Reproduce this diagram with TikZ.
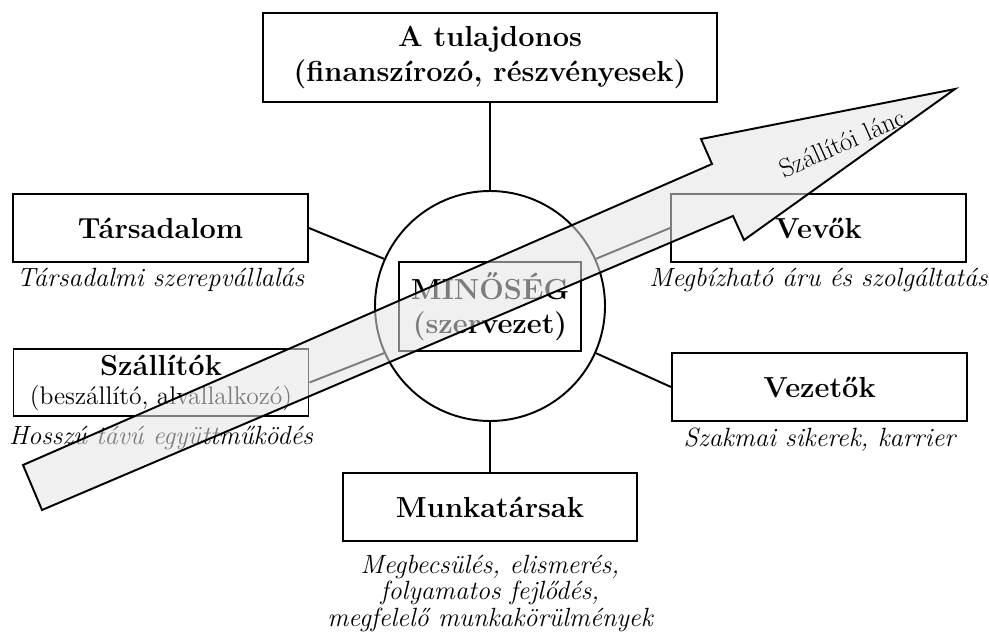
\documentclass[tikz,border=0pt]{standalone}
\usepackage{fontspec}
\usetikzlibrary{positioning}
\newcommand{\titlefont}{\fontsize{16.5}{19.5}\selectfont\bfseries}
\newcommand{\notefont}{\fontsize{15}{15.2}\selectfont\itshape}
\newcommand{\subfont}{\fontsize{14.5}{14.2}\selectfont\mdseries}
\tikzset{
  partner/.style={draw,rectangle,line width=1.1pt,minimum width=5.9cm,minimum height=1.36cm,align=center,font=\titlefont},
  note/.style={inner sep=0pt,align=center,font=\notefont},
  core/.style={draw,circle,line width=1.1pt,minimum size=4.6cm,inner sep=0pt},
  link/.style={line width=1.1pt},
  chain/.style={draw,line width=1.1pt,line join=miter,fill=black!11,fill opacity=0.55}
}

\begin{document}
\begin{tikzpicture}
  \useasboundingbox (0,0) rectangle (19.78,12.66);

  \node[partner,minimum width=9.08cm,minimum height=1.78cm] (tul) at (9.8,11.51) {A tulajdonos\\(finanszírozó, részvényesek)};
  \node[core] (circ) at (9.8,6.54) {};
  \node[partner,minimum width=3.64cm,minimum height=1.78cm] (min) at (9.8,6.53) {MINŐSÉG\\(szervezet)};
  \node[partner] (tars) at (3.21,8.10) {Társadalom};
  \node[partner,minimum height=1.18cm] (szall) at (3.22,5.01) {Szállítók\\[-3pt]{\subfont (beszállító, alvallalkozó)}};
  \node[partner] (vevo) at (16.37,8.10) {Vevők};
  \node[partner] (vez) at (16.39,4.92) {Vezetők};
  \node[partner,minimum width=5.88cm] (munka) at (9.8,2.52) {Munkatársak};

  \node[note,below=0.9mm of tars] (tarsn) {Társadalmi szerepvállalás};
  \node[note,below=1.8mm of szall] (szalln) {Hosszú távú együttműködés};
  \node[note,below=0.9mm of vevo] (vevon) {Megbízható áru és szolgáltatás};
  \node[note,below=1.1mm of vez] (vezn) {Szakmai sikerek, karrier};
  \node[note,below=2.5mm of munka] (munkan) {Megbecsülés, elismerés,\\folyamatos fejlődés,\\megfelelő munkakörülmények};

  \draw[link] (circ.north) -- (tul.south);
  \draw[link] (circ.south) -- (munka.north);
  \draw[link] (circ.156) -- (tars.east);
  \draw[link] (circ.204) -- (szall.east);
  \draw[link] (circ.24) -- (vevo.west);
  \draw[link] (circ.-24) -- (vez.west);

  % supply chain arrow over everything
  \draw[chain] (0.46,3.36) -- (0.84,2.46) -- (14.66,8.34) -- (14.88,7.86) -- (19.10,10.88) -- (14.02,9.88) -- (14.24,9.38) -- cycle;
  \node[rotate=24,font=\fontsize{15}{15}\selectfont] (lanc) at (16.84,9.80) {Szállítói lánc};
\end{tikzpicture}
\end{document}
